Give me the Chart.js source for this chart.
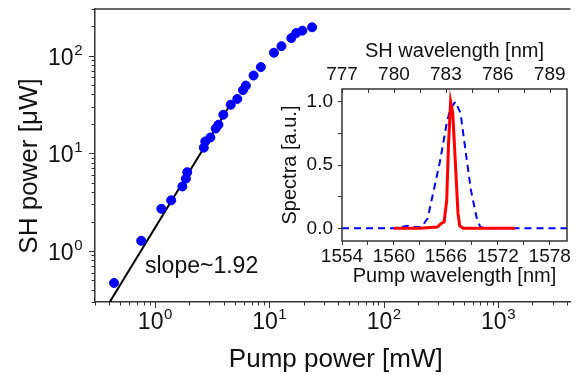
<!DOCTYPE html>
<html>
<head>
<meta charset="utf-8">
<script src="https://cdn.jsdelivr.net/npm/chart.js@4.4.1/dist/chart.umd.min.js"></script>
<style>
  html, body { margin: 0; padding: 0; background: #fff; overflow: hidden; }
  #wrap { position: relative; width: 576px; height: 375px; }
  #main-chart { position: absolute; left: 0; top: 0; }
  #inset-chart { position: absolute; left: 270px; top: 30px; }
</style>
</head>
<body>
<div id="wrap">
  <canvas id="main-chart" width="576" height="375"></canvas>
  <canvas id="inset-chart" width="306" height="265"></canvas>
</div>
<script>
// main plot: SH power vs pump power (log-log)
const pumpPower = [0.44, 0.76, 1.14, 1.39, 1.74, 1.87, 1.92, 2.68, 2.76, 3.06, 3.40, 3.60, 3.97,
                   4.61, 5.26, 5.89, 6.25, 7.30, 8.45, 11.0, 12.8, 15.6, 17.2, 19.5, 23.7];
const shPower = [0.47, 1.27, 2.70, 3.30, 4.57, 5.50, 6.40, 11.4, 13.2, 14.5, 17.9, 19.6, 24.8,
                 31.4, 36.0, 44.3, 49.3, 62.5, 76.3, 107, 125, 151, 170, 180, 195];
// fitted line, slope ~1.92
const fitPump = [0.40, 4.6];
const fitSh = [0.295, 32];

// inset: spectra
const pumpWl = [1554, 1560, 1560.8, 1561.5, 1562.3, 1563.2, 1563.9, 1564.6, 1565.3, 1566.1, 1566.5,
                1567.1, 1567.7, 1568.2, 1568.9, 1569.6, 1570.0, 1570.5, 1580];
const pumpSpec = [0, 0, 0.01, 0.02, 0.01, 0.01, 0.08, 0.30, 0.52, 0.83, 0.94,
                  1.0, 0.91, 0.65, 0.30, 0.07, 0.01, 0, 0];
// SH spectrum, drawn on the pump wavelength axis (2x SH wavelength)
const shWl = [1560.0, 1563.0, 1565.0, 1565.5, 1565.8, 1566.1, 1566.3, 1566.55, 1566.8, 1567.1,
              1567.4, 1567.6, 1568.0, 1571.0, 1574.0];
const shSpec = [0, 0, 0.01, 0.04, 0.05, 0.22, 0.65, 1.0, 0.91, 0.52, 0.12, 0.02, 0, 0, 0];

const pumpTicks = [1554, 1560, 1566, 1572, 1578];
const shTicks = [777, 780, 783, 786, 789];
const spectraTicks = [0.0, 0.5, 1.0];

const FONT = "'Liberation Sans', Arial, sans-serif";
const AXIS = "#333";
const TEXT = "#111";

function toPoints(xs, ys) {
    return xs.map(function(x, i) { return { x: x, y: ys[i] }; });
}

// ticks, labels with superscripts and titles for the log-log plot
const mainAxes = {
    id: "mainAxes",
    afterDraw(chart) {
        const c = chart.ctx;
        const a = chart.chartArea;
        const xs = chart.scales.x;
        const ys = chart.scales.y;
        c.save();
        c.strokeStyle = AXIS;
        c.lineWidth = 1.5;
        c.beginPath();
        c.moveTo(a.left, a.top);
        c.lineTo(a.right, a.top);
        c.stroke();

        c.lineWidth = 1;
        for (let e = -1; e <= 3; e++) {
            for (let m = 1; m <= 9; m++) {
                const v = m * Math.pow(10, e);
                const len = m === 1 ? 6 : 3.5;
                if (v >= xs.min && v <= xs.max) {
                    const px = Math.round(xs.getPixelForValue(v)) + 0.5;
                    c.beginPath();
                    c.moveTo(px, a.bottom);
                    c.lineTo(px, a.bottom + len);
                    c.stroke();
                }
                if (v >= ys.min && v <= ys.max) {
                    const py = Math.round(ys.getPixelForValue(v)) + 0.5;
                    c.beginPath();
                    c.moveTo(a.left, py);
                    c.lineTo(a.left - len, py);
                    c.stroke();
                }
            }
        }

        c.fillStyle = TEXT;
        c.textBaseline = "alphabetic";
        const base = "23px " + FONT;
        const sup = "15px " + FONT;
        for (let e = -1; e <= 3; e++) {
            const v = Math.pow(10, e);
            c.font = base;
            const w1 = c.measureText("10").width;
            c.font = sup;
            const w2 = c.measureText(String(e)).width;
            if (v >= xs.min && v <= xs.max) {
                const px = xs.getPixelForValue(v);
                const x0 = px - (w1 + w2) / 2;
                c.textAlign = "left";
                c.font = base;
                c.fillText("10", x0, a.bottom + 27);
                c.font = sup;
                c.fillText(String(e), x0 + w1 + 0.5, a.bottom + 17);
            }
            if (v >= ys.min && v <= ys.max) {
                const py = ys.getPixelForValue(v);
                c.textAlign = "left";
                const x0 = a.left - 13 - w1 - w2;
                c.font = base;
                c.fillText("10", x0, py + 9);
                c.font = sup;
                c.fillText(String(e), x0 + w1 + 0.5, py - 1);
            }
        }

        c.font = "26px " + FONT;
        c.textAlign = "center";
        c.textBaseline = "alphabetic";
        c.fillText("Pump power [mW]", (a.left + a.right) / 2 + 3, 367);
        c.save();
        c.translate(37, 166);
        c.rotate(-Math.PI / 2);
        c.fillText("SH power [\u03bcW]", 0, 0);
        c.restore();

        c.font = "23px " + FONT;
        c.textAlign = "left";
        c.fillText("slope~1.92", 145, 273);
        c.restore();
    }
};

new Chart(document.getElementById("main-chart").getContext("2d"), {
    type: "scatter",
    data: {
        datasets: [{
            data: toPoints(pumpPower, shPower),
            backgroundColor: "#0000ff",
            borderColor: "#0000ff",
            pointRadius: 4.5,
            pointHoverRadius: 4.5
        }, {
            data: toPoints(fitPump, fitSh),
            showLine: true,
            borderColor: "#000",
            borderWidth: 2,
            pointRadius: 0
        }]
    },
    options: {
        responsive: false,
        animation: false,
        devicePixelRatio: 1,
        layout: { padding: { left: 0, right: 0, top: 9, bottom: 0 } },
        plugins: { legend: { display: false }, tooltip: { enabled: false } },
        scales: {
            x: {
                type: "logarithmic",
                min: 0.3,
                max: 4300,
                grid: { display: false },
                border: { display: true, color: AXIS, width: 1.5 },
                ticks: { display: false },
                afterFit: function(s) { s.height = 73; }
            },
            y: {
                type: "logarithmic",
                min: 0.3,
                max: 300,
                grid: { display: false },
                border: { display: true, color: AXIS, width: 1.5 },
                ticks: { display: false },
                afterFit: function(s) { s.width = 95; }
            }
        }
    },
    plugins: [mainAxes]
});

// frame and inward top ticks of the inset
const insetFrame = {
    id: "insetFrame",
    afterDraw(chart) {
        const c = chart.ctx;
        const a = chart.chartArea;
        const top = chart.scales.x2;
        c.save();
        c.strokeStyle = AXIS;
        c.lineWidth = 1;
        for (let v = top.min; v <= top.max; v += 1.5) {
            const px = Math.round(top.getPixelForValue(v)) + 0.5;
            c.beginPath();
            c.moveTo(px, a.top);
            c.lineTo(px, a.top + 4);
            c.stroke();
        }
        c.lineWidth = 1.5;
        c.strokeRect(a.left, a.top, a.right - a.left, a.bottom - a.top);
        c.restore();
    }
};

const tickFont = { family: FONT, size: 19 };
const titleFont = { family: FONT, size: 20 };

new Chart(document.getElementById("inset-chart").getContext("2d"), {
    type: "scatter",
    data: {
        datasets: [{
            data: toPoints(shWl, shSpec),
            showLine: true,
            borderColor: "#ff0000",
            borderWidth: 3,
            pointRadius: 0,
            xAxisID: "x",
            yAxisID: "y"
        }, {
            data: toPoints(pumpWl, pumpSpec),
            showLine: true,
            borderColor: "#0000ff",
            borderWidth: 2,
            borderDash: [7, 5],
            pointRadius: 0,
            xAxisID: "x",
            yAxisID: "y"
        }]
    },
    options: {
        responsive: false,
        animation: false,
        devicePixelRatio: 1,
        layout: { padding: { left: 0, right: 9, top: 0, bottom: 0 } },
        plugins: { legend: { display: false }, tooltip: { enabled: false } },
        scales: {
            x: {
                type: "linear",
                position: "bottom",
                min: 1554,
                max: 1580,
                grid: { display: true, drawOnChartArea: false, drawTicks: true, tickLength: 4, color: AXIS },
                border: { display: false },
                ticks: {
                    stepSize: 3,
                    includeBounds: false,
                    autoSkip: false,
                    maxRotation: 0,
                    padding: 0,
                    color: TEXT,
                    font: tickFont,
                    callback: function(v) { return pumpTicks.includes(v) ? String(v) : ""; }
                },
                title: { display: true, text: "Pump wavelength [nm]", color: TEXT, font: titleFont, padding: { top: 0, bottom: 7 } },
                afterFit: function(s) { s.height = 54; }
            },
            x2: {
                type: "linear",
                position: "top",
                min: 777,
                max: 790,
                grid: { display: true, drawOnChartArea: false, drawTicks: false },
                border: { display: false },
                ticks: {
                    stepSize: 1.5,
                    includeBounds: false,
                    autoSkip: false,
                    maxRotation: 0,
                    padding: 3,
                    color: TEXT,
                    font: tickFont,
                    callback: function(v) { return shTicks.includes(v) ? String(v) : ""; }
                },
                title: { display: true, text: "SH wavelength [nm]", color: TEXT, font: titleFont, padding: { top: 9, bottom: 0 } },
                afterFit: function(s) { s.height = 59; }
            },
            y: {
                type: "linear",
                min: -0.1,
                max: 1.1,
                grid: { display: true, drawOnChartArea: false, drawTicks: true, tickLength: 4, color: AXIS },
                border: { display: false },
                ticks: {
                    stepSize: 0.25,
                    includeBounds: false,
                    autoSkip: false,
                    padding: 5,
                    color: TEXT,
                    font: tickFont,
                    callback: function(v) {
                        const hit = spectraTicks.find(function(t) { return Math.abs(t - v) < 1e-6; });
                        return hit === undefined ? "" : hit.toFixed(1);
                    }
                },
                title: { display: true, text: "Spectra [a.u.]", color: TEXT, font: titleFont, padding: { top: 8, bottom: 0 } },
                afterFit: function(s) { s.width = 72; }
            }
        }
    },
    plugins: [insetFrame]
});
</script>
</body>
</html>
